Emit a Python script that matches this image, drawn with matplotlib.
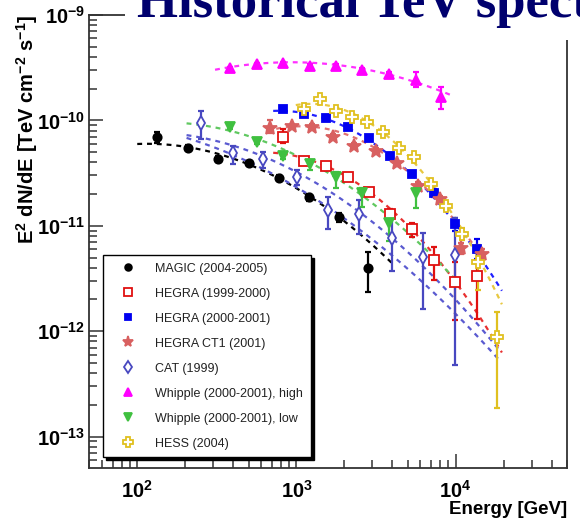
import numpy as np
import matplotlib
matplotlib.use("Agg")
import matplotlib.pyplot as plt

plt.rcParams['font.family'] = ['Liberation Sans', 'DejaVu Sans']
plt.rcParams['font.weight'] = 'bold'
plt.rcParams['mathtext.fontset'] = 'custom'
plt.rcParams['mathtext.rm'] = 'Liberation Sans:bold'
plt.rcParams['mathtext.it'] = 'Liberation Sans:bold'
plt.rcParams['mathtext.bf'] = 'Liberation Sans:bold'

# --- data: energy [GeV], E^2 dN/dE [TeV cm^-2 s^-1], relative errors (down, up)
magic_e = [134, 207, 322, 500, 772, 1191, 1854, 2820]
magic_f = [6.92e-11, 5.51e-11, 4.33e-11, 3.94e-11, 2.86e-11, 1.86e-11, 1.21e-11, 3.95e-12]
magic_lo = [0.12, 0.05, 0.06, 0.05, 0.05, 0.07, 0.10, 0.41]
magic_hi = [0.12, 0.05, 0.06, 0.05, 0.05, 0.07, 0.10, 0.42]

hegra99_e = [825, 1113, 1537, 2094, 2860, 3886, 5303, 7253, 9872, 13510]
hegra99_f = [7.00e-11, 4.15e-11, 3.69e-11, 2.92e-11, 2.09e-11, 1.30e-11, 9.32e-12, 4.71e-12, 2.93e-12, 3.34e-12]
hegra99_lo = [0.12, 0.05, 0.05, 0.05, 0.06, 0.10, 0.16, 0.35, 0.56, 0.61]
hegra99_hi = [0.18, 0.05, 0.05, 0.05, 0.06, 0.10, 0.15, 0.34, 0.55, 0.41]

hegra00_e = [825, 1113, 1537, 2094, 2860, 3886, 5303, 7253, 9872, 13510]
hegra00_f = [1.28e-10, 1.16e-10, 1.05e-10, 8.71e-11, 6.76e-11, 4.63e-11, 3.10e-11, 2.06e-11, 1.04e-11, 6.02e-12]
hegra00_lo = [0.04, 0.04, 0.04, 0.04, 0.04, 0.05, 0.06, 0.08, 0.14, 0.20]
hegra00_hi = [0.04, 0.04, 0.04, 0.04, 0.04, 0.05, 0.06, 0.08, 0.13, 0.25]

ct1_e = [681, 933, 1259, 1685, 2293, 3151, 4250, 5807, 7948, 10810, 14520]
ct1_f = [8.47e-11, 8.85e-11, 8.71e-11, 7.00e-11, 5.75e-11, 5.16e-11, 3.92e-11, 2.41e-11, 1.79e-11, 6.12e-12, 5.40e-12]
ct1_lo = [0.10, 0.05, 0.05, 0.05, 0.05, 0.05, 0.06, 0.07, 0.08, 0.12, 0.12]
ct1_hi = [0.19, 0.05, 0.05, 0.05, 0.05, 0.05, 0.06, 0.07, 0.08, 0.12, 0.12]

cat_e = [251, 397, 613, 1001, 1581, 2482, 4000, 6245, 9872]
cat_f = [9.51e-11, 4.87e-11, 4.30e-11, 2.88e-11, 1.40e-11, 1.29e-11, 7.74e-12, 5.09e-12, 5.34e-12]
cat_lo = [0.30, 0.21, 0.18, 0.15, 0.33, 0.35, 0.52, 0.68, 0.91]
cat_hi = [0.30, 0.17, 0.17, 0.17, 0.35, 0.35, 0.78, 0.69, 1.21]

whigh_e = [382, 562, 825, 1214, 1767, 2585, 3802, 5593, 8029]
whigh_f = [3.12e-10, 3.43e-10, 3.48e-10, 3.30e-10, 3.30e-10, 3.01e-10, 2.74e-10, 2.42e-10, 1.66e-10]
whigh_lo = [0.03, 0.03, 0.03, 0.03, 0.03, 0.04, 0.06, 0.14, 0.22]
whigh_hi = [0.03, 0.03, 0.03, 0.03, 0.03, 0.04, 0.06, 0.18, 0.26]

wlow_e = [382, 562, 825, 1219, 1767, 2562, 3802, 5593]
wlow_f = [8.71e-11, 6.28e-11, 4.56e-11, 3.82e-11, 2.92e-11, 2.03e-11, 1.06e-11, 2.03e-11]
wlow_lo = [0.04, 0.04, 0.05, 0.12, 0.22, 0.26, 0.33, 0.28]
wlow_hi = [0.04, 0.04, 0.05, 0.10, 0.12, 0.12, 0.28, 0.12]

hess_e = [1113, 1402, 1767, 2227, 2779, 3502, 4413, 5481, 6979, 8752, 11000, 13760, 18040]
hess_f = [1.28e-10, 1.59e-10, 1.23e-10, 1.07e-10, 9.72e-11, 7.81e-11, 5.44e-11, 4.47e-11, 2.49e-11, 1.54e-11, 8.36e-12, 4.53e-12, 8.87e-13]
hess_lo = [0.05, 0.05, 0.05, 0.05, 0.05, 0.05, 0.05, 0.05, 0.05, 0.08, 0.12, 0.46, 0.79]
hess_hi = [0.05, 0.05, 0.05, 0.05, 0.05, 0.05, 0.05, 0.05, 0.05, 0.08, 0.15, 0.45, 0.72]

labels = ['MAGIC (2004-2005)', 'HEGRA (1999-2000)', 'HEGRA (2000-2001)', 'HEGRA CT1 (2001)',
          'CAT (1999)', 'Whipple (2000-2001), high', 'Whipple (2000-2001), low', 'HESS (2004)']

# log-parabola fits: log10(F) = a + b*x + c*x^2, x = log10(E / 1 TeV); energy range in GeV
fit_a = [-10.644, -10.340, -9.920, -10.057, -10.490, -9.449, -10.333, -9.854]
fit_b = [-0.898, -0.347, -0.195, 0.058, -0.795, -0.020, -0.743, 0.237]
fit_c = [-0.478, -0.850, -0.868, -0.961, -0.417, -0.310, -0.437, -1.320]
fit_emin = [100, 714, 714, 650, 204, 308, 204, 990]
fit_emax = [3950, 19500, 19500, 15000, 19200, 9730, 10100, 19500]
# second CAT curve
cat2_abc = [-10.634, -0.892, -0.311]
cat2_range = [204, 19200]

energies = [magic_e, hegra99_e, hegra00_e, ct1_e, cat_e, whigh_e, wlow_e, hess_e]
fluxes = [magic_f, hegra99_f, hegra00_f, ct1_f, cat_f, whigh_f, wlow_f, hess_f]
err_lo = [magic_lo, hegra99_lo, hegra00_lo, ct1_lo, cat_lo, whigh_lo, wlow_lo, hess_lo]
err_hi = [magic_hi, hegra99_hi, hegra00_hi, ct1_hi, cat_hi, whigh_hi, wlow_hi, hess_hi]

# styles
colors = ['black', '#e01010', '#0000f0', '#d86060', '#4848c0', '#ff00ff', '#40c040', '#e0c020']
line_colors = ['black', '#e83030', '#2020ff', '#e07070', '#5a5ad0', '#ff30ff', '#60c860', '#e8c840']
markers = ['o', 's', 's', '*', 'd', '^', 'v', 'P']
msizes = [6, 7, 6, 10, 7.5, 7, 7, 9]
mfaces = ['black', 'white', '#0000f0', '#d86060', 'white', '#ff00ff', '#40c040', 'white']

fig = plt.figure(figsize=(5.8, 5.18), dpi=100)
ax = fig.add_axes([0.154, 0.0971, 0.8236, 0.874])
ax.set_xscale('log')
ax.set_yscale('log')
ax.set_xlim(50, 5e4)
ax.set_ylim(5.07e-14, 1e-9)


def curve(a, b, c, emin, emax):
    e = np.logspace(np.log10(emin), np.log10(emax), 120)
    x = np.log10(e / 1000.0)
    return e, 10 ** (a + b * x + c * x ** 2)


for i in range(len(labels)):
    e, f = curve(fit_a[i], fit_b[i], fit_c[i], fit_emin[i], fit_emax[i])
    ax.plot(e, f, color=line_colors[i], lw=1.6, dashes=(2.2, 2.2), zorder=2)
e, f = curve(*cat2_abc, *cat2_range)
ax.plot(e, f, color=line_colors[4], lw=1.6, dashes=(2.2, 2.2), zorder=2)

handles = []
for i in range(len(labels)):
    E = np.array(energies[i])
    F = np.array(fluxes[i])
    yerr = [F * np.array(err_lo[i]), F * np.array(err_hi[i])]
    ax.errorbar(E, F, yerr=yerr, fmt='none', ecolor=colors[i], elinewidth=1.6,
                capsize=2.5, capthick=1.6, zorder=3)
    h, = ax.plot(E, F, linestyle='none', marker=markers[i], ms=msizes[i], color=colors[i],
                 mfc=mfaces[i], mec=colors[i], mew=1.3, zorder=4, label=labels[i])
    handles.append(h)

for s in ['left', 'bottom', 'right', 'top']:
    ax.spines[s].set_linewidth(1.3)
    ax.spines[s].set_color('#333333')
ax.tick_params(which='both', direction='in', top=False, right=False, width=1.1, color='#333333')
ax.tick_params(which='major', length=10, labelsize=14.5)
ax.tick_params(which='minor', length=5.5)
ax.tick_params(axis='x', which='major', pad=9)
ax.tick_params(axis='y', which='major', pad=3)
ax.xaxis.set_minor_formatter(plt.NullFormatter())
ax.yaxis.set_minor_formatter(plt.NullFormatter())

ax.set_ylabel(r'$\mathbf{E^{2}\ dN/dE\ [TeV\ cm^{-2}\ s^{-1}]}$', fontsize=14.5, loc='top', labelpad=-2)
ax.set_xlabel('Energy [GeV]', fontsize=13.5, fontweight='bold', loc='right', labelpad=-1)

leg = ax.legend(handles=handles, loc='lower left', bbox_to_anchor=(0.0287, 0.0236, 0.435, 0.446),
                mode='expand', borderaxespad=0, fontsize=9, markerscale=0.8, handlelength=2.8,
                handletextpad=0.75, borderpad=0.6, labelspacing=1.04, fancybox=False,
                shadow={'color': 'black', 'alpha': 1, 'ox': 2.2, 'oy': -2.2})
leg.get_frame().set_edgecolor('black')
leg.get_frame().set_linewidth(1.0)
for t in leg.get_texts():
    t.set_fontweight('normal')
    t.set_color('#222222')

fig.text(137 / 580, 1 - 17 / 518, 'Historical TeV spectra', fontsize=38, family='Liberation Serif',
         fontweight='bold', color='#00006e', ha='left', va='baseline',
         bbox=dict(boxstyle='square,pad=0.22', fc='white', ec='none'), zorder=10)

fig.savefig('out.png', dpi=100)
